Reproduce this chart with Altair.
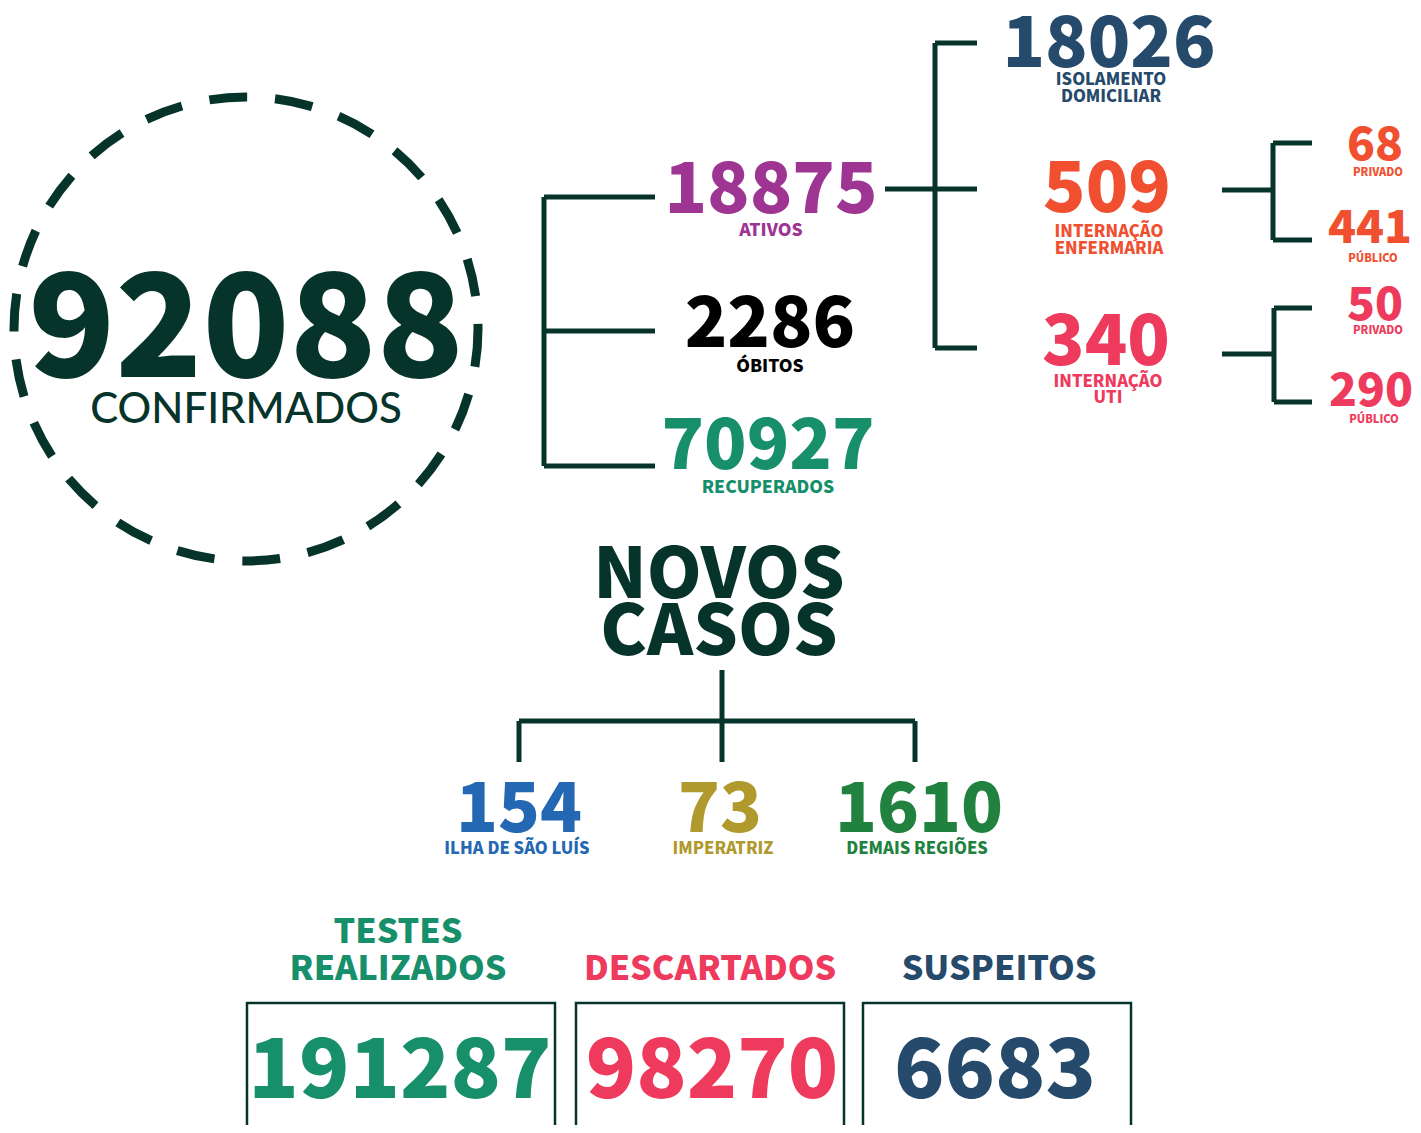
import altair as alt
import pandas as pd

# ---------------- data ----------------
confirmados_value = 92088
confirmados_label = "CONFIRMADOS"

status_labels = ["ATIVOS", "ÓBITOS", "RECUPERADOS"]
status_values = [18875, 2286, 70927]

ativos_labels = [["ISOLAMENTO", "DOMICILIAR"], ["INTERNAÇÃO", "ENFERMARIA"], ["INTERNAÇÃO", "UTI"]]
ativos_values = [18026, 509, 340]

enfermaria_labels = ["PRIVADO", "PÚBLICO"]
enfermaria_values = [68, 441]
uti_labels = ["PRIVADO", "PÚBLICO"]
uti_values = [50, 290]

novos_title = ["NOVOS", "CASOS"]
novos_labels = ["ILHA DE SÃO LUÍS", "IMPERATRIZ", "DEMAIS REGIÕES"]
novos_values = [154, 73, 1610]

testes_labels = [["TESTES", "REALIZADOS"], ["DESCARTADOS"], ["SUSPEITOS"]]
testes_values = [191287, 98270, 6683]

# ---------------- styles ----------------
DARK = "#06342a"
PURPLE = "#9e3593"
BLACK = "#000000"
TEAL = "#168f6a"
NAVY = "#264a6b"
ORANGE = "#f05030"
PINK = "#ee3a5c"
BLUE = "#2468b4"
OLIVE = "#b09a2e"
GREEN = "#218240"
FONT = "Noto Sans CJK SC"

rows = []


def add(text, x, y, size, color, weight=900):
    rows.append(dict(text=str(text), x=x, y=y, size=size, color=color, weight=weight))


# confirmados
add(confirmados_value, 246, 377, 143, DARK)
# status
status_pos = [(771, 213, 236, PURPLE), (770, 347, 372, BLACK), (768, 469, 493, TEAL)]
for v, l, (cx, by, ly, col) in zip(status_values, status_labels, status_pos):
    add(v, cx, by, 70, col)
    add(l, cx, ly, 17.5, col)
# ativos breakdown
ativos_pos = [(1109, 67, [85, 102], NAVY), (1107, 212, [237, 254], ORANGE), (1106, 365, [387, 403], PINK)]
for v, ls, (cx, by, lys, col) in zip(ativos_values, ativos_labels, ativos_pos):
    add(v, cx, by, 70, col)
    for l, ly in zip(ls, lys):
        add(l, cx + 2, ly, 16.5, col)
# enfermaria / uti
sub_pos = [(1375, 160, 176, ORANGE), (1370, 243, 262, ORANGE)]
for v, l, (cx, by, ly, col) in zip(enfermaria_values, enfermaria_labels, sub_pos):
    add(v, cx, by, 46, col)
    add(l, cx + 3, ly, 11, col)
sub_pos = [(1375, 320, 334, PINK), (1371, 406, 423, PINK)]
for v, l, (cx, by, ly, col) in zip(uti_values, uti_labels, sub_pos):
    add(v, cx, by, 46, col)
    add(l, cx + 3, ly, 11, col)
# novos casos
for t, by in zip(novos_title, [598, 655]):
    add(t, 719, by, 70, DARK)
novos_pos = [(519, 517, BLUE), (720, 723, OLIVE), (919, 917, GREEN)]
for v, l, (cx, lx, col) in zip(novos_values, novos_labels, novos_pos):
    add(v, cx, 832, 69, col)
    add(l, lx, 854, 16.5, col)
# testes
testes_pos = [(398, 400, [943, 980], TEAL), (710, 712, [980], PINK), (999, 995, [980], NAVY)]
for v, ls, (lx, vx, lys, col) in zip(testes_values, testes_labels, testes_pos):
    for l, ly in zip(ls, lys):
        add(l, lx, ly, 34, col)
    add(v, vx, 1098, 83, col)

texts = pd.DataFrame(rows)

# connector lines
segs = pd.DataFrame([
    # left bracket
    dict(x=544, y=197, x2=544, y2=466),
    dict(x=544, y=197, x2=655, y2=197),
    dict(x=544, y=331, x2=655, y2=331),
    dict(x=544, y=466, x2=655, y2=466),
    # ativos bracket
    dict(x=885, y=189, x2=977, y2=189),
    dict(x=935, y=43, x2=935, y2=348),
    dict(x=935, y=43, x2=977, y2=43),
    dict(x=935, y=348, x2=977, y2=348),
    # enfermaria bracket
    dict(x=1222, y=190, x2=1273, y2=190),
    dict(x=1273, y=143, x2=1273, y2=240),
    dict(x=1273, y=143, x2=1312, y2=143),
    dict(x=1273, y=240, x2=1312, y2=240),
    # uti bracket
    dict(x=1222, y=354, x2=1274, y2=354),
    dict(x=1274, y=308, x2=1274, y2=402),
    dict(x=1274, y=308, x2=1312, y2=308),
    dict(x=1274, y=402, x2=1312, y2=402),
    # novos casos tree
    dict(x=722, y=670, x2=722, y2=762),
    dict(x=519, y=721, x2=915, y2=721),
    dict(x=519, y=721, x2=519, y2=762),
    dict(x=915, y=721, x2=915, y2=762),
])

boxes = pd.DataFrame([
    dict(x=247, x2=555, y=1003, y2=1140),
    dict(x=576, x2=844, y=1003, y2=1140),
    dict(x=863, x2=1131, y=1003, y2=1140),
])

circle = pd.DataFrame([dict(x=246, y=329)])

W, H = 1405, 1117
xs = alt.Scale(domain=[8, 8 + W], nice=False, zero=False)
ys = alt.Scale(domain=[8, 8 + H], nice=False, zero=False, reverse=True)
X = lambda f: alt.X(f, type="quantitative", scale=xs, axis=None)
Y = lambda f: alt.Y(f, type="quantitative", scale=ys, axis=None)

ring = alt.Chart(circle).mark_point(
    shape="circle", size=464 * 464, filled=False, stroke=DARK, strokeWidth=9,
    strokeDash=[38, 28], opacity=1,
).encode(x=X("x"), y=Y("y"))

lines = alt.Chart(segs).mark_rule(color=DARK, strokeWidth=5).encode(
    x=X("x"), y=Y("y"), x2="x2", y2="y2")

rects = alt.Chart(boxes).mark_rect(fill=None, stroke=DARK, strokeWidth=2.5, clip=True).encode(
    x=X("x"), x2="x2", y=Y("y"), y2="y2")

text_layer = alt.Chart(texts).mark_text(
    font=FONT, fontWeight=900, align="center", baseline="alphabetic"
).encode(
    x=X("x"), y=Y("y"), text="text:N",
    size=alt.Size("size:Q", scale=None),
    color=alt.Color("color:N", scale=None),
)

conf_label = alt.Chart(pd.DataFrame([dict(text=confirmados_label, x=246, y=423)])).mark_text(
    font="Lato", fontWeight=500, fontSize=42, color=DARK, align="center", baseline="alphabetic"
).encode(x=X("x"), y=Y("y"), text="text:N")

chart = alt.layer(ring, lines, rects, text_layer, conf_label).properties(
    width=W, height=H, padding=0, autosize=alt.AutoSizeParams(type="none"),
    background="white",
).configure_view(stroke=None)

chart.save("out.html", embed_options={"renderer": "svg", "actions": False})
